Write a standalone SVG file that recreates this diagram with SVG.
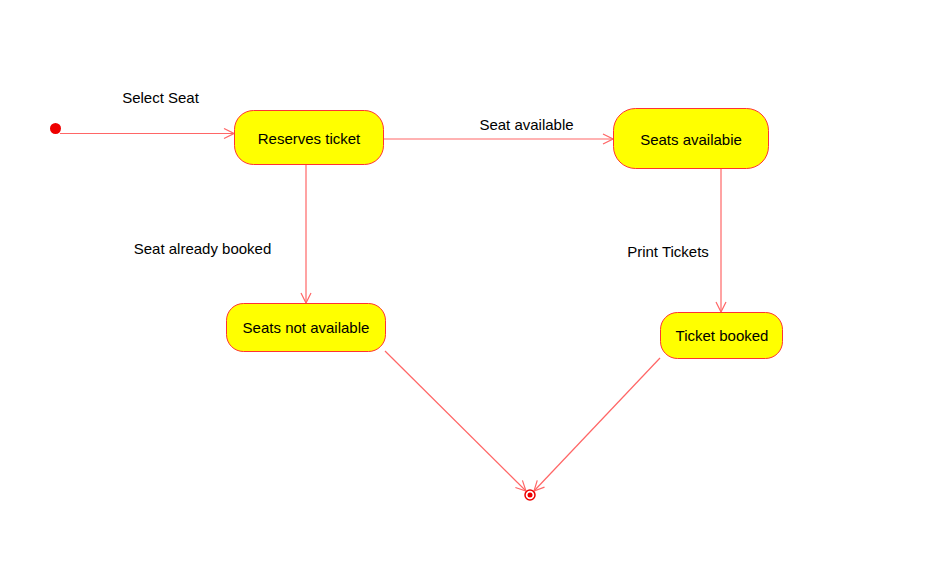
<svg xmlns="http://www.w3.org/2000/svg" width="947" height="574" viewBox="0 0 947 574">
<style>
.node rect{fill:#ffff00;stroke:#ff3333;stroke-width:1}
.lbl{font-family:"Liberation Sans",Arial,sans-serif;font-size:15px;fill:#000}
.edge{stroke:#ff6666;stroke-width:1.2;fill:none}
</style>
<defs>
<marker id="arr" viewBox="0 0 12 12" refX="11" refY="6" markerWidth="12" markerHeight="12" markerUnits="userSpaceOnUse" orient="auto">
<path d="M1,1 L11,6 L1,11" fill="none" stroke="#ff6666" stroke-width="1.2"/>
</marker>
</defs>
<rect width="947" height="574" fill="#fff"/>
<g id="connectors">
<path class="edge" d="M60,133.5 H234" marker-end="url(#arr)"/>
<path class="edge" d="M383,139 H613" marker-end="url(#arr)"/>
<path class="edge" d="M306,165 V303" marker-end="url(#arr)"/>
<path class="edge" d="M721,169 V312" marker-end="url(#arr)"/>
<path class="edge" d="M385,351 L526,491" marker-end="url(#arr)"/>
<path class="edge" d="M660,358 L534,491" marker-end="url(#arr)"/>
<text class="lbl" x="160.5" y="103" text-anchor="middle">Select Seat</text>
<text class="lbl" x="526.5" y="130" text-anchor="middle">Seat available</text>
<text class="lbl" x="202.5" y="254" text-anchor="middle">Seat already booked</text>
<text class="lbl" x="668" y="257" text-anchor="middle">Print Tickets</text>
</g>
<g id="initial"><circle cx="55.5" cy="128.5" r="5.5" fill="#ee0000"/></g>
<g id="reserves" class="node"><rect x="234.5" y="110.5" width="149" height="54" rx="19" ry="19"/><text class="lbl" x="309" y="144" text-anchor="middle">Reserves ticket</text></g>
<g id="seatsavail" class="node"><rect x="613.5" y="108.5" width="155" height="60" rx="22" ry="22"/><text class="lbl" x="691" y="145" text-anchor="middle">Seats availabie</text></g>
<g id="seatsnot" class="node"><rect x="226.5" y="303.5" width="159" height="48" rx="17" ry="17"/><text class="lbl" x="306" y="333" text-anchor="middle">Seats not available</text></g>
<g id="booked" class="node"><rect x="660.5" y="312.5" width="122" height="46" rx="17" ry="17"/><text class="lbl" x="722" y="341" text-anchor="middle">Ticket booked</text></g>
<g id="final"><circle cx="530" cy="495" r="5" fill="none" stroke="#ee0000" stroke-width="1.5"/><circle cx="530" cy="495" r="2.5" fill="#ee0000"/></g>
</svg>
